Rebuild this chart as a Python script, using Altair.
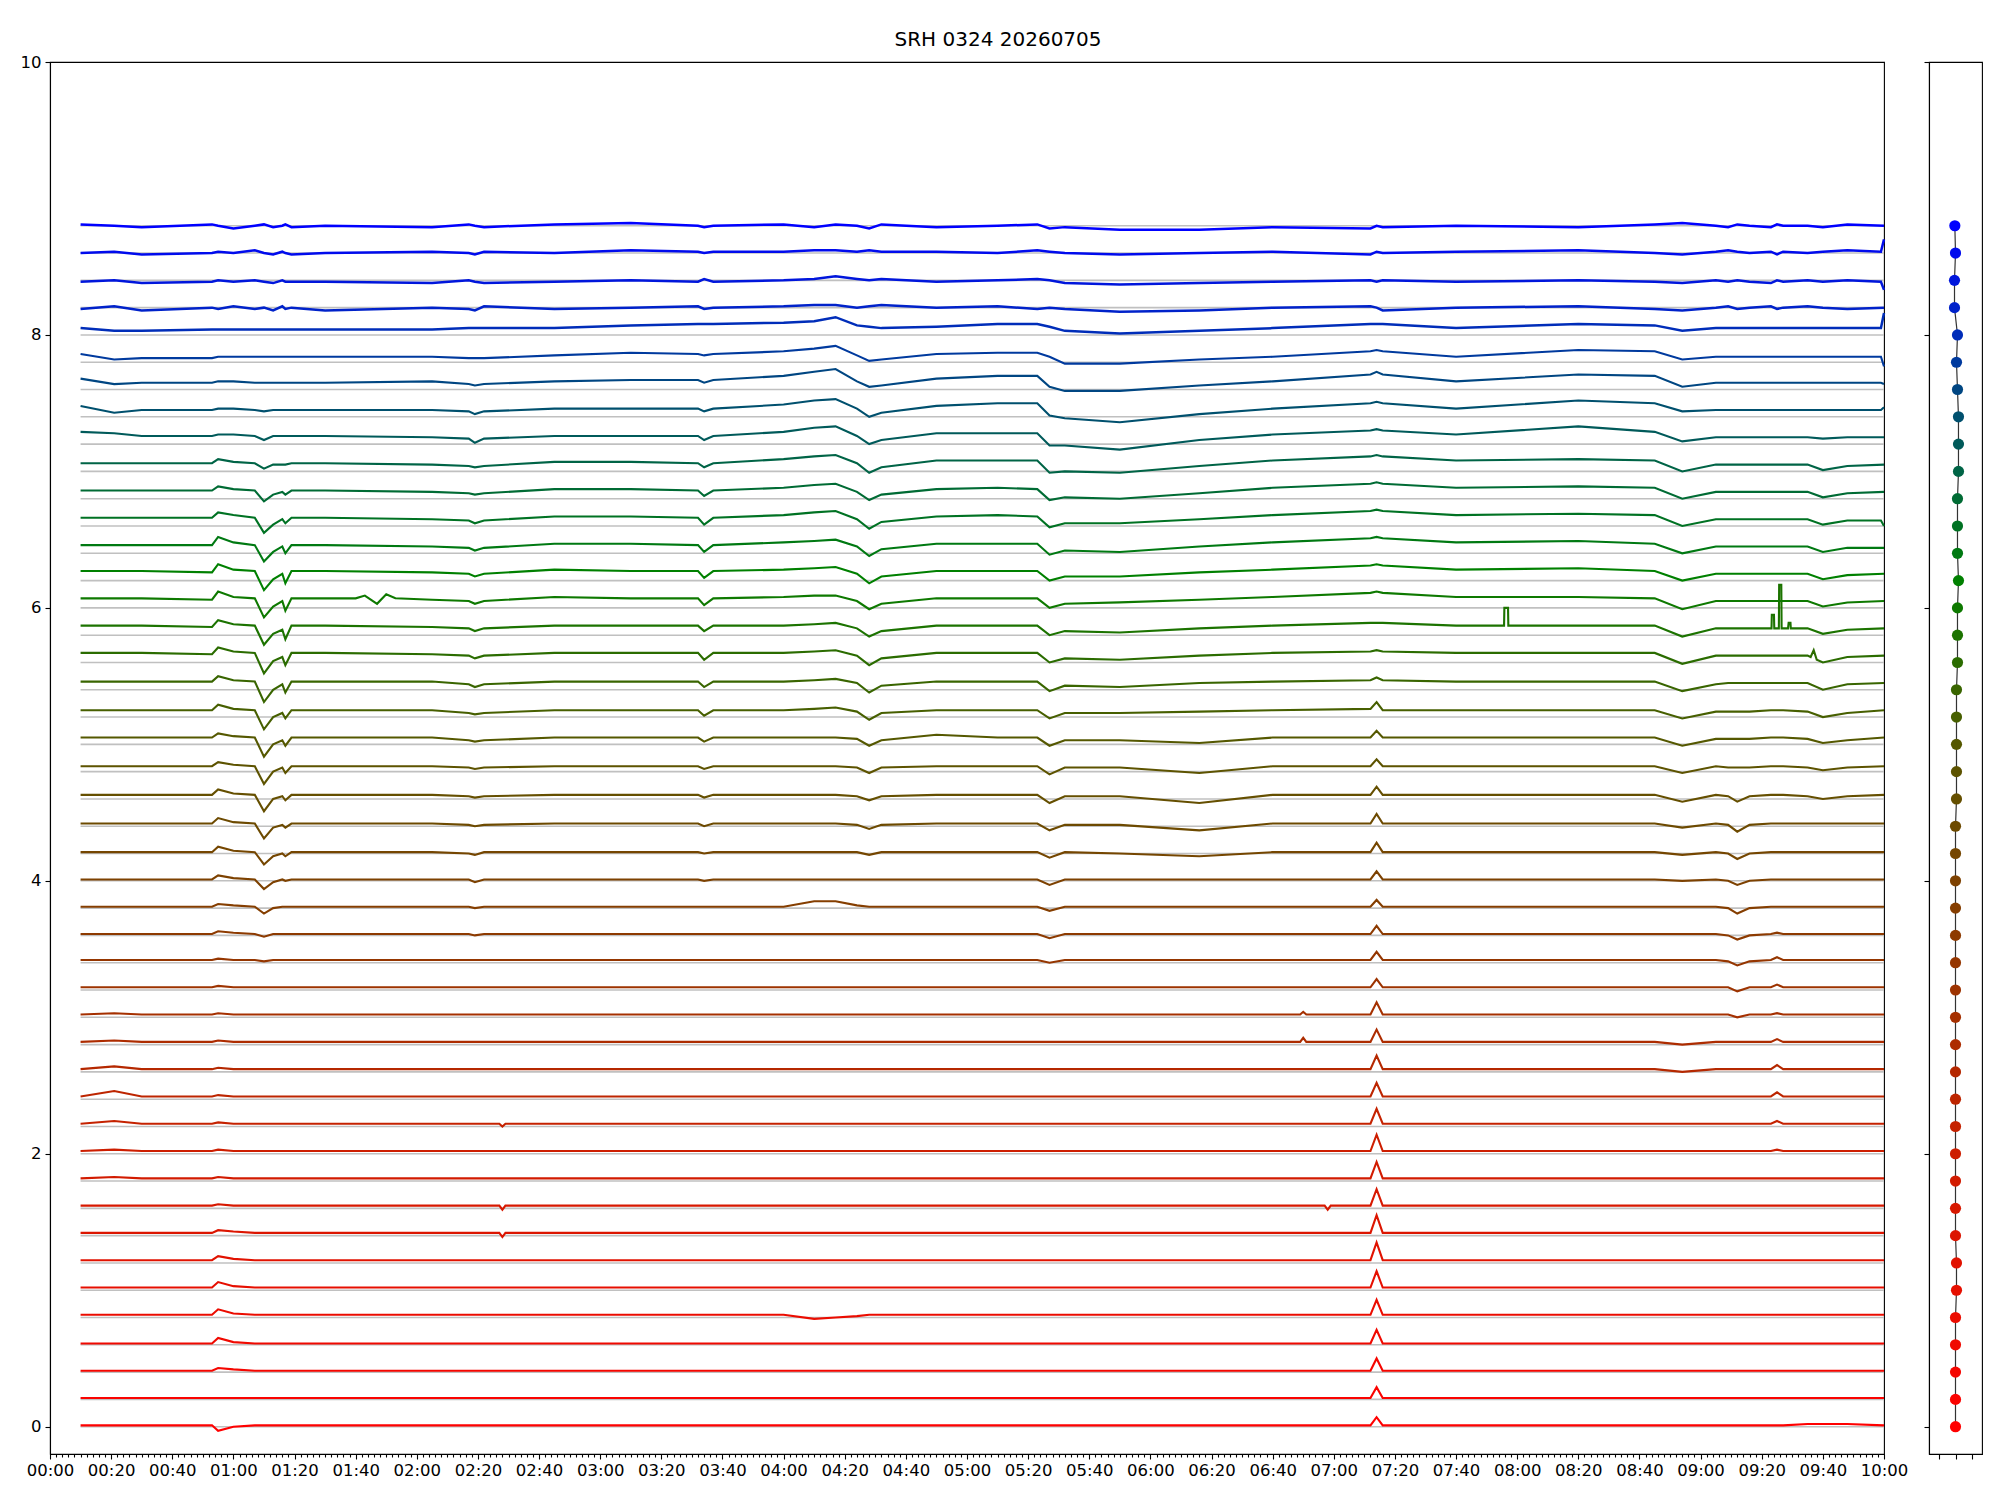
import altair as alt
import pandas as pd

title_text = "SRH 0324 20260705"

levels = [0.0, 0.2, 0.4, 0.6, 0.8, 1.0, 1.2, 1.4, 1.6, 1.8,
          2.0, 2.2, 2.4, 2.6, 2.8, 3.0, 3.2, 3.4, 3.6, 3.8,
          4.0, 4.2, 4.4, 4.6, 4.8, 5.0, 5.2, 5.4, 5.6, 5.8,
          6.0, 6.2, 6.4, 6.6, 6.8, 7.0, 7.2, 7.4, 7.6, 7.8,
          8.0, 8.2, 8.4, 8.6, 8.8]

# minutes after 00:00 at which each trace was read
knot_minutes = [10, 21, 30, 53, 55, 60, 67, 70, 73, 76, 77, 79,
                90, 125, 137, 139, 142, 165, 190, 212, 214, 217,
                240, 250, 257, 264, 268, 272, 290, 310, 323, 327, 332, 350,
                376, 400, 432, 434, 436, 460, 500, 525, 534, 545,
                549, 552, 556, 563, 565, 567, 575, 580, 588, 600]

# deviations from each trace's level, in hundredths
dev_red = [
    [1,1,1,1,-3,0, 1,1,1,1,1,1, 1,1,1,1,1, 1,1,1,1,1, 1,1,1,1,1,1, 1,1,1,1,1,1, 1,1,1,7,1, 1,1,1,1,1, 1,1,1,1,1,1, 2,2,2,1],
    [1,1,1,1,1,1, 1,1,1,1,1,1, 1,1,1,1,1, 1,1,1,1,1, 1,1,1,1,1,1, 1,1,1,1,1,1, 1,1,1,9,1, 1,1,1,1,1, 1,1,1,1,1,1, 1,1,1,1],
    [1,1,1,1,3,2, 1,1,1,1,1,1, 1,1,1,1,1, 1,1,1,1,1, 1,1,1,1,1,1, 1,1,1,1,1,1, 1,1,1,10,1, 1,1,1,1,1, 1,1,1,1,1,1, 1,1,1,1],
    [1,1,1,1,5,2, 1,1,1,1,1,1, 1,1,1,1,1, 1,1,1,1,1, 1,1,1,1,1,1, 1,1,1,1,1,1, 1,1,1,11,1, 1,1,1,1,1, 1,1,1,1,1,1, 1,1,1,1],
    [2,2,2,2,6,3, 2,2,2,2,2,2, 2,2,2,2,2, 2,2,2,2,2, 2,-1,0,1,2,2, 2,2,2,2,2,2, 2,2,2,13,2, 2,2,2,2,2, 2,2,2,2,2,2, 2,2,2,2],
    [2,2,2,2,6,3, 2,2,2,2,2,2, 2,2,2,2,2, 2,2,2,2,2, 2,2,2,2,2,2, 2,2,2,2,2,2, 2,2,2,14,2, 2,2,2,2,2, 2,2,2,2,2,2, 2,2,2,2],
    [2,2,2,2,5,3, 2,2,2,2,2,2, 2,2,2,2,2, 2,2,2,2,2, 2,2,2,2,2,2, 2,2,2,2,2,2, 2,2,2,15,2, 2,2,2,2,2, 2,2,2,2,2,2, 2,2,2,2],
    [2,2,2,2,4,3, 2,2,2,2,2,2, 2,2,2,2,2, 2,2,2,2,2, 2,2,2,2,2,2, 2,2,2,2,2,2, 2,2,2,15,2, 2,2,2,2,2, 2,2,2,2,2,2, 2,2,2,2],
    [2,2,2,2,3,2, 2,2,2,2,2,2, 2,2,2,2,2, 2,2,2,2,2, 2,2,2,2,2,2, 2,2,2,2,2,2, 2,2,2,14,2, 2,2,2,2,2, 2,2,2,2,2,2, 2,2,2,2],
    [2,3,2,2,3,2, 2,2,2,2,2,2, 2,2,2,2,2, 2,2,2,2,2, 2,2,2,2,2,2, 2,2,2,2,2,2, 2,2,2,14,2, 2,2,2,2,2, 2,2,2,2,2,2, 2,2,2,2],
]
dev_orange = [
    [2,3,2,2,3,2, 2,2,2,2,2,2, 2,2,2,2,2, 2,2,2,2,2, 2,2,2,2,2,2, 2,2,2,2,2,2, 2,2,2,14,2, 2,2,2,2,2, 2,2,2,2,3,2, 2,2,2,2],
    [2,4,2,2,3,2, 2,2,2,2,2,2, 2,2,2,2,2, 2,2,2,2,2, 2,2,2,2,2,2, 2,2,2,2,2,2, 2,2,2,13,2, 2,2,2,2,2, 2,2,2,2,4,2, 2,2,2,2],
    [2,6,2,2,3,2, 2,2,2,2,2,2, 2,2,2,2,2, 2,2,2,2,2, 2,2,2,2,2,2, 2,2,2,2,2,2, 2,2,2,12,2, 2,2,2,2,2, 2,2,2,2,5,2, 2,2,2,2],
    [2,4,2,2,3,2, 2,2,2,2,2,2, 2,2,2,2,2, 2,2,2,2,2, 2,2,2,2,2,2, 2,2,2,2,2,2, 2,2,2,12,2, 2,2,2,0,2, 2,2,2,2,5,2, 2,2,2,2],
    [2,3,2,2,3,2, 2,2,2,2,2,2, 2,2,2,2,2, 2,2,2,2,2, 2,2,2,2,2,2, 2,2,2,2,2,2, 2,2,2,11,2, 2,2,2,0,2, 2,2,2,2,4,2, 2,2,2,2],
    [2,3,2,2,3,2, 2,2,2,2,2,2, 2,2,2,2,2, 2,2,2,2,2, 2,2,2,2,2,2, 2,2,2,2,2,2, 2,2,2,11,2, 2,2,2,2,2, 2,0,2,2,3,2, 2,2,2,2],
    [2,2,2,2,3,2, 2,2,2,2,2,2, 2,2,2,2,2, 2,2,2,2,2, 2,2,2,2,2,2, 2,2,2,2,2,2, 2,2,2,8,2, 2,2,2,2,2, 2,-1,2,2,4,2, 2,2,2,2],
    [2,2,2,2,3,2, 2,1,2,2,2,2, 2,2,2,2,2, 2,2,2,2,2, 2,2,2,2,2,2, 2,2,2,0,2,2, 2,2,2,8,2, 2,2,2,2,2, 1,-2,1,2,4,2, 2,2,2,2],
    [1,1,1,1,3,2, 1,-1,1,1,1,1, 1,1,1,0,1, 1,1,1,1,1, 1,1,1,1,1,1, 1,1,1,-2,1,1, 1,1,1,7,1, 1,1,1,1,1, 0,-3,0,1,2,1, 1,1,1,1],
    [1,1,1,1,3,2, 1,-4,0,1,1,1, 1,1,1,0,1, 1,1,1,1,1, 1,5,5,2,1,1, 1,1,1,-2,1,1, 1,1,1,6,1, 1,1,1,1,1, 0,-4,0,1,1,1, 1,1,1,1],
]
dev_olive = [
    [1,1,1,1,4,2, 1,-6,-1,1,0,1, 1,1,1,-1,1, 1,1,1,0,1, 1,1,1,1,1,1, 1,1,1,-3,1,1, 1,1,1,7,1, 1,1,1,0,1, 0,-3,0,1,1,1, 1,1,1,1],
    [1,1,1,1,5,2, 1,-8,-2,0,-2,1, 1,1,0,-1,1, 1,1,1,0,1, 1,1,1,1,-1,1, 1,1,1,-3,1,0, -2,1,1,8,1, 1,1,1,-1,1, 0,-4,0,1,1,1, 1,1,1,1],
    [2,2,2,2,6,3, 2,-9,-1,1,-1,2, 2,2,1,0,1, 2,2,2,0,2, 2,2,2,1,-2,1, 2,2,2,-3,1,1, -3,2,2,9,2, 2,2,2,-1,2, 1,-4,1,2,2,2, 2,2,2,2],
    [3,3,3,3,7,4, 3,-9,0,2,-1,3, 3,3,2,1,2, 3,3,3,1,3, 3,3,3,2,-1,2, 3,3,3,-3,2,2, -3,3,3,9,3, 3,3,3,-2,3, 2,-2,2,3,3,3, 2,0,2,3],
    [4,4,4,4,7,5, 4,-9,0,3,-1,4, 4,4,3,2,3, 4,4,4,2,4, 4,4,4,3,-1,3, 4,4,4,-2,3,3, -1,4,4,9,4, 4,4,4,-1,4, 3,3,3,4,4,4, 3,1,3,4],
    [5,5,5,5,8,6, 5,-9,0,3,-1,5, 5,5,3,2,3, 5,5,5,2,5, 5,5,5,4,-1,3, 7,5,5,-1,3,3, 1,5,5,10,5, 5,5,5,-1,4, 4,4,4,5,5,5, 4,1,3,5],
    [5,5,5,5,9,6, 5,-9,0,3,-1,5, 5,5,3,2,3, 5,5,5,1,5, 5,6,7,4,-2,3, 5,5,5,-1,3,3, 4,5,6,11,5, 5,5,5,-1,4, 4,4,4,5,5,5, 4,0,3,5],
    [6,6,6,6,10,7, 6,-9,0,4,-2,6, 6,6,4,2,4, 6,6,6,2,6, 6,7,8,5,-2,3, 6,6,6,-1,3,2, 5,6,7,9,7, 6,6,6,-1,4, 5,5,5,5,5,5, 5,0,4,5],
    [7,7,7,6,11,8, 7,-8,1,4,-2,7, 7,6,5,3,5, 7,7,7,2,7, 7,8,9,5,-2,3, 7,7,7,0,3,2, 5,7,8,9,8, 7,7,7,-1,5, 5,5,5,5,5,5, 5,0,4,5],
    [7,7,7,6,11,8, 7,-7,1,4,-3,7, 7,6,5,3,5, 7,7,7,3,7, 7,8,9,5,-1,3, 7,7,7,0,3,2, 5,7,9,9,9, 7,7,7,-1,5, 5,5,5,5,5,5, 5,1,4,5],
]
dev_green = [
    [7,7,7,6,12,8, 7,-7,1,5,-2,7, 7,6,5,3,5, 8,7,7,2,7, 8,9,9,5,-1,3, 7,7,7,0,3,4, 6,8,11,12,11, 8,8,7,-1,5, 5,5,5,5,5,5, 5,1,4,5],
    [7,7,7,6,12,8, 7,-7,1,5,-2,7, 7,6,5,3,5, 8,7,7,2,7, 8,9,10,5,-2,3, 7,7,7,0,3,3, 6,8,11,12,11, 8,9,7,0,5, 5,5,5,5,5,5, 5,1,4,5],
    [6,6,6,6,12,8, 6,-6,1,5,0,6, 6,5,4,2,4, 7,7,6,1,6, 8,9,10,5,-2,3, 7,7,7,-1,2,1, 5,8,11,12,11, 8,9,7,0,5, 5,5,5,5,5,5, 5,1,4,4],
    [6,6,6,6,10,8, 6,-5,1,5,2,6, 6,5,4,2,4, 7,7,6,1,6, 8,10,11,5,-2,3, 7,8,7,-1,2,2, 5,8,11,12,11, 8,9,8,0,5, 5,5,5,5,5,5, 5,1,4,0],
    [6,6,6,6,9,7, 6,-2,3,5,3,6, 6,5,4,3,4, 7,7,6,2,6, 8,10,11,5,-1,3, 7,8,7,-1,1,0, 4,8,11,12,11, 8,9,8,0,5, 5,5,5,5,5,5, 5,1,4,5],
    [6,6,6,6,9,7, 6,2,5,5,5,6, 6,5,4,3,4, 7,7,6,3,6, 9,11,12,6,-1,3, 8,8,8,-1,0,-1, 4,8,11,12,11, 8,9,8,0,5, 5,5,5,5,5,5, 5,1,4,5],
    [9,8,6,6,7,7, 6,3,6,6,6,6, 6,5,4,1,4, 6,6,6,3,6, 9,12,13,6,0,3, 8,8,8,-1,-1,-4, 3,7,10,11,10, 7,13,9,2,5, 5,5,5,5,5,5, 5,4,5,5],
    [8,3,5,5,6,6, 5,4,5,5,5,5, 5,5,4,2,4, 6,6,6,4,6, 9,12,13,6,0,3, 8,10,10,1,-1,-4, 2,6,10,11,10, 6,12,10,4,5, 5,5,5,5,5,5, 5,5,5,7],
    [8,4,5,5,6,6, 5,5,5,5,5,5, 5,6,4,3,4, 6,7,7,5,7, 10,13,15,6,2,3, 8,10,10,2,-1,-1, 3,6,11,13,11, 6,11,10,2,5, 5,5,5,5,5,5, 5,5,5,4],
    [6,2,3,3,4,4, 4,4,4,4,4,4, 4,4,3,3,3, 5,7,6,5,6, 8,10,12,5,1,2, 6,7,7,4,-1,-1, 2,4,8,9,8, 4,9,8,2,4, 4,4,4,4,4,4, 4,4,4,-3],
]
dev_blue = [
    [5,3,3,4,4,4, 4,4,4,4,4,4, 4,4,5,5,5, 5,7,8,8,8, 9,10,13,7,6,5, 6,8,8,6,3,1, 3,5,8,8,8, 5,8,7,3,5, 5,5,5,5,5,5, 5,5,5,16],
    [-1,1,-2,0,-1,1, -1,0,-2,1,-1,0, -2,0,-1,-2,1, -1,0,1,-1,0, 1,2,2,0,1,2, 0,1,-1,0,-1,-3, -2,0,1,0,-2, 0,1,-1,-2,0, 1,-1,0,1,-1,0, 1,0,-1,0],
    [-1,0,-2,-1,0,-1, 0,-1,-2,0,-1,-1, -1,-2,0,-1,-2, -1,0,-1,1,-1, 0,1,3,1,0,1, -1,0,1,0,-2,-3, -2,-1,0,-1,0, -1,0,-1,-2,0, -1,0,-1,-2,0,-1, 0,-1,0,-7],
    [0,1,-1,0,1,0, 2,0,-1,1,0,-1, 0,1,0,-1,1, 0,2,1,0,1, 1,2,2,1,2,1, 1,0,2,1,0,-1, 0,1,-1,1,0, 1,2,0,-1,1, 2,1,0,1,-1,1, 0,1,2,10],
    [1,0,-1,1,0,-2, 0,1,-1,0,1,-1, 0,-1,1,0,-1, 1,2,0,-1,0, 1,-1,1,0,-2,1, -1,0,1,-2,-1,-3, -3,-1,-2,0,-1, 0,-1,1,2,0, -1,1,0,-1,1,0, 0,-1,1,0],
]

# narrow features read at their own minutes (trace index, minute, hundredths)
extra_line = [7, 7, 7, 8, 8, 8, 8, 8, 8, 11, 11, 11, 14, 14, 14, 15, 15, 15,
              28, 28, 28,
              29, 29, 29, 29, 29, 29, 29, 29, 29, 29, 29, 29, 29, 29, 29, 29,
              30, 30, 30, 30, 30,
              33, 37, 38, 39, 40, 42, 43]
extra_minute = [147, 148, 149, 147, 148, 149, 417, 418, 419, 147, 148, 149,
                409, 410, 411, 409, 410, 411,
                576, 577, 578,
                475.7, 475.8, 477.0, 477.1, 563.2, 563.3, 564.0, 564.1,
                565.6, 565.7, 566.4, 566.5, 568.6, 568.8, 569.4, 569.5,
                100, 103, 107, 110, 113,
                599, 599, 599, 599, 599, 599, 599]
extra_dev = [2, -1, 2, 2, -1, 2, 2, -1, 2, 2, 0, 2, 2, 5, 2, 2, 4, 2,
             4, 9, 2,
             7, 20, 20, 7, 5, 15, 15, 5, 5, 37, 37, 5, 5, 9, 9, 5,
             7, 9, 3, 10, 7,
             4, 5, 5, 4, 5, -1, 1]

# horizontal offsets of the markers in the side panel
marker_offset = [0, 0, 0, 0, 0, 0.06, 0.06, 0, 0, 0,
                 0, 0, 0, 0, 0, 0, 0, 0, 0, 0,
                 0, 0, 0, 0.06, 0.06, 0.06, 0.06, 0.06, 0.12, 0.12,
                 0.12, 0.18, 0.12, 0.12, 0.12, 0.18, 0.18, 0.18, 0.12, 0.06,
                 0.12, -0.06, -0.06, 0, -0.04]

# colour anchors (style)
color_anchors = [(0.0, (255, 0, 0)), (2.0, (205, 30, 0)), (4.0, (125, 65, 0)),
                 (5.0, (85, 88, 0)), (6.2, (0, 128, 0)), (7.0, (0, 100, 70)),
                 (7.6, (0, 70, 130)), (8.0, (0, 45, 185)), (8.8, (0, 0, 255))]


def level_color(v):
    for (a, ca), (b, cb) in zip(color_anchors[:-1], color_anchors[1:]):
        if a <= v <= b:
            f = (v - a) / (b - a)
            c = [round(ca[k] + (cb[k] - ca[k]) * f) for k in range(3)]
            return "#%02x%02x%02x" % tuple(c)
    return "#0000ff"


colors = [level_color(v) for v in levels]
# heavier stroke for the noisy top traces (style)
widths = [2.5 if v >= 8.0 else 2.1 for v in levels]

all_dev = dev_red + dev_orange + dev_olive + dev_green + dev_blue
rows = []
for i, devs in enumerate(all_dev):
    if len(devs) != len(knot_minutes):
        raise ValueError(f"trace {i} has {len(devs)} values, expected {len(knot_minutes)}")
    pts = dict(zip(knot_minutes, devs))
    for ln, m, d in zip(extra_line, extra_minute, extra_dev):
        if ln == i:
            pts[m] = d
    for m in sorted(pts):
        rows.append({"line": i, "minute": m, "value": levels[i] + pts[m] / 100.0,
                     "color": colors[i], "sw": widths[i]})
trace_df = pd.DataFrame(rows)

base_df = pd.DataFrame({"level": levels,
                        "t0": [min(knot_minutes)] * len(levels),
                        "t1": [max(knot_minutes)] * len(levels)})

side_df = pd.DataFrame({"level": levels, "xoff": marker_offset, "color": colors})

FONT = "DejaVu Sans"
LABEL_SIZE = 16.5

x_scale = alt.Scale(domain=[0, 600], nice=False, zero=False)
y_scale = alt.Scale(domain=[-0.2, 10], nice=False, zero=False)

label_expr = ("datum.value % 20 == 0 ? "
              "(floor(datum.value/60) < 10 ? '0' : '') + floor(datum.value/60) + ':' + "
              "(datum.value % 60 < 10 ? '0' : '') + (datum.value % 60) : ''")

x_axis = alt.Axis(values=list(range(0, 601, 2)), labelExpr=label_expr,
                  tickSize={"condition": {"test": "datum.value % 20 == 0", "value": 5},
                            "value": 3},
                  labelFontSize=LABEL_SIZE, labelPadding=3, labelOverlap=False,
                  labelFlush=False, title=None, grid=False)
y_axis = alt.Axis(values=[0, 2, 4, 6, 8, 10], format="d", tickSize=5, labelPadding=4,
                  labelFontSize=LABEL_SIZE, title=None, grid=False, labelFlush=False,
                  minExtent=36, maxExtent=36)

base_rules = alt.Chart(base_df).mark_rule(color="#c0c0c0", strokeWidth=1.6).encode(
    x=alt.X("t0:Q", scale=x_scale, axis=x_axis),
    x2="t1:Q",
    y=alt.Y("level:Q", scale=y_scale, axis=y_axis),
)

traces = alt.Chart(trace_df).mark_line().encode(
    x=alt.X("minute:Q", scale=x_scale, axis=x_axis),
    y=alt.Y("value:Q", scale=y_scale, axis=y_axis),
    color=alt.Color("color:N", scale=None),
    strokeWidth=alt.StrokeWidth("sw:Q", scale=None),
    detail="line:N",
)

main = alt.layer(base_rules, traces).properties(width=1834, height=1392)

side_x = alt.X("xoff:Q", scale=alt.Scale(domain=[-1.6, 1.6], nice=False, zero=False),
               axis=alt.Axis(values=[-1, 0, 1], labels=False, tickSize=5, title=None,
                             grid=False))
side_y = alt.Y("level:Q", scale=y_scale,
               axis=alt.Axis(values=[0, 2, 4, 6, 8, 10], labels=False, tickSize=5,
                             title=None, grid=False, minExtent=6, maxExtent=6))

side_line = alt.Chart(side_df).mark_line(color="#333333", strokeWidth=1.2).encode(
    x=side_x, y=side_y, order="level:Q")
side_dots = alt.Chart(side_df).mark_circle(size=125, opacity=1).encode(
    x=side_x, y=side_y, color=alt.Color("color:N", scale=None))
side = alt.layer(side_line, side_dots).properties(width=53, height=1392)

chart = alt.hconcat(main, side, spacing=45, bounds="flush").properties(
    title=alt.TitleParams(title_text, fontSize=20, font=FONT, fontWeight="normal",
                          anchor="middle", offset=3, color="black"),
    padding={"left": 5, "top": 22, "right": 5, "bottom": 5},
).configure(font=FONT).configure_view(
    stroke="black", strokeWidth=1.1
).configure_axis(
    domainColor="black", tickColor="black", labelColor="black",
    domainWidth=1.1, tickWidth=1.1, labelFont=FONT,
)

chart.save("out.html", embed_options={"renderer": "svg", "actions": False})
